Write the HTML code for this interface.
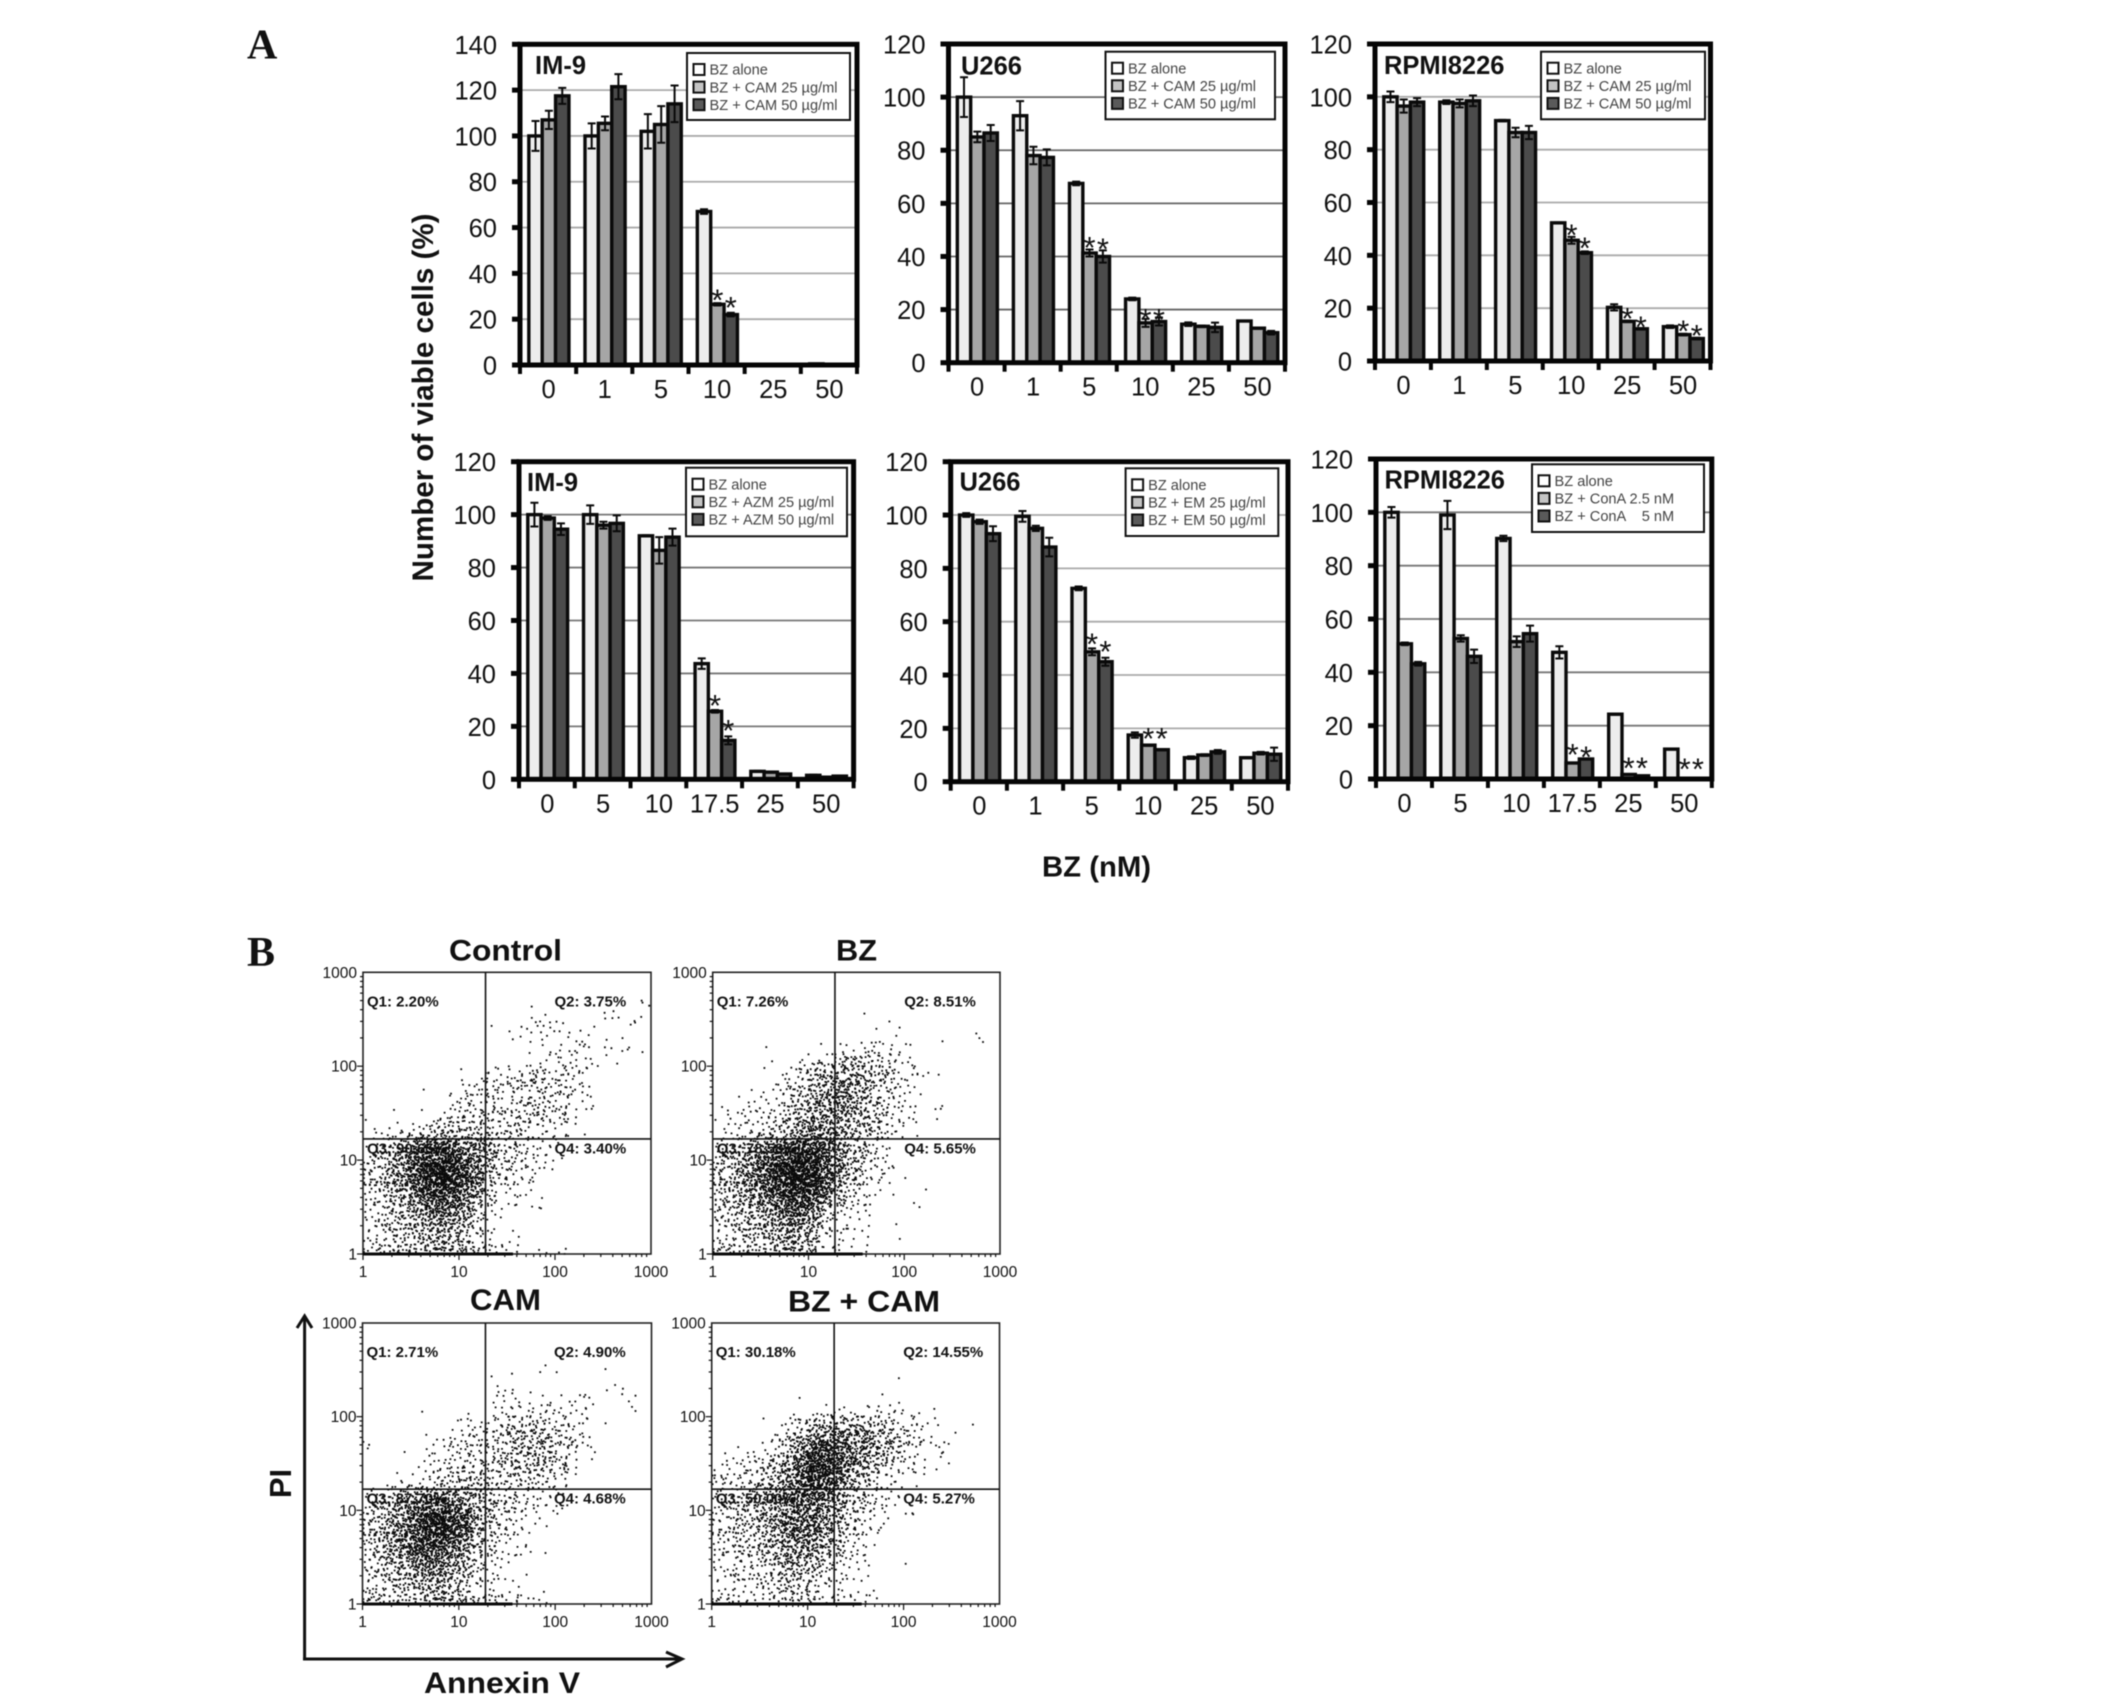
<!DOCTYPE html>
<html lang="en">
<head>
<meta charset="utf-8">
<title>Viable cells and annexin V / PI flow cytometry</title>
<style>
html,body{margin:0;padding:0;background:#fff;}
svg{display:block;filter:blur(0.45px);}
text{font-family:"Liberation Sans",Arial,sans-serif;}
.panel-letter{font-family:"Liberation Serif",serif;font-weight:bold;font-size:42px;fill:#111;}
.bold{font-weight:bold;fill:#111;}
</style>
</head>
<body>
<svg id="figure" xmlns="http://www.w3.org/2000/svg" width="2126" height="1698" viewBox="0 0 2126 1698">
  <rect x="0" y="0" width="2126" height="1698" fill="#fff"/>
  <text class="panel-letter" x="247" y="58.5">A</text>
  <text class="panel-letter" x="247" y="966">B</text>
  <text class="bold" font-size="30" text-anchor="middle" transform="translate(433 397.5) rotate(-90)" textLength="368" lengthAdjust="spacingAndGlyphs">Number of viable cells  (%)</text>
  <text class="bold" font-size="29" x="1042" y="876.5" textLength="109" lengthAdjust="spacingAndGlyphs">BZ (nM)</text>
  <text class="bold" font-size="30" x="449" y="960.5" textLength="113" lengthAdjust="spacingAndGlyphs">Control</text>
  <text class="bold" font-size="30" x="836" y="960.5" textLength="41" lengthAdjust="spacingAndGlyphs">BZ</text>
  <text class="bold" font-size="30" x="470" y="1310" textLength="71" lengthAdjust="spacingAndGlyphs">CAM</text>
  <text class="bold" font-size="30" x="788" y="1311.5" textLength="152" lengthAdjust="spacingAndGlyphs">BZ + CAM</text>
  <line x1="304.6" y1="1660.5" x2="304.6" y2="1316" stroke="#111" stroke-width="3"/>
  <polyline points="297,1328 304.6,1316 312,1328" fill="none" stroke="#111" stroke-width="3"/>
  <line x1="303" y1="1659" x2="682" y2="1659" stroke="#111" stroke-width="3"/>
  <polyline points="666,1652 682,1659 666,1667" fill="none" stroke="#111" stroke-width="3"/>
  <text class="bold" font-size="31" text-anchor="middle" transform="translate(291 1483.5) rotate(-90)">PI</text>
  <text class="bold" font-size="30" x="424" y="1693" textLength="156" lengthAdjust="spacingAndGlyphs">Annexin V</text>
  <g id="bar-charts"></g>
  <g id="flow-plots"></g>
</svg>
<script>
/* ---------- bar chart data ---------- */
const yTicks140 = [0,20,40,60,80,100,120,140];
const yTicks120 = [0,20,40,60,80,100,120];
const doseCatsA = ['0','1','5','10','25','50'];
const doseCatsB = ['0','5','10','17.5','25','50'];

const im9CamAlone = [100,100,102,67,0,0.5];
const im9CamAloneErr = [6.5,5.5,7.5,1,0,0];
const im9Cam25 = [107,105.5,105,26.5,0,0];
const im9Cam25Err = [4,3,8,0.5,0,0];
const im9Cam50 = [117.5,121.5,114,22,0,0.3];
const im9Cam50Err = [3.5,5.5,8,0.8,0,0];
const im9CamStars = [[3,1,31.4],[3,2,28.2]];
const im9CamLegend = ['BZ alone','BZ + CAM 25 µg/ml','BZ + CAM 50 µg/ml'];

const u266CamAlone = [100,93,67.5,24,14.5,15.7];
const u266CamAloneErr = [7.5,5.5,0.7,0.5,0.7,0.2];
const u266Cam25 = [85,78,41.3,15,13.7,13];
const u266Cam25Err = [2,3.3,1.3,1.5,0.3,0.2];
const u266Cam50 = [86.5,77.3,40,15.5,13.3,11.3];
const u266Cam50Err = [3,3,2.3,1.5,1.8,0.7];
const u266CamStars = [[2,1,46],[2,2,45.6],[3,1,19],[3,2,19]];

const rpmiCamAlone = [100,98,91,52.3,20.3,13];
const rpmiCamAloneErr = [2,0.7,0.3,0.2,1.2,0.5];
const rpmiCam25 = [96.5,97.5,86.5,45.7,15,10];
const rpmiCam25Err = [2.5,1.5,1.8,1.3,0.3,0.3];
const rpmiCam50 = [98,98.5,86.5,41,12.2,8.5];
const rpmiCam50Err = [1.5,2,2.5,0.5,0.3,0.3];
const rpmiCamStars = [[3,1,50.5],[3,2,45.4],[4,1,18.8],[4,2,15.6],[5,1,14],[5,2,12.4]];

const im9AzmAlone = [100,100,92,43.7,3,1.5];
const im9AzmAloneErr = [4.5,3.5,0.2,2,0.2,0.2];
const im9Azm25 = [98.7,96,86.5,25.7,2.7,0.8];
const im9Azm25Err = [0.7,1.3,5,0.5,0.2,0.2];
const im9Azm50 = [94.5,96.7,91.5,14.7,2,1.2];
const im9Azm50Err = [2.2,3,3.2,1.5,0.2,0.2];
const im9AzmStars = [[3,1,30.6],[3,2,21.2]];
const im9AzmLegend = ['BZ alone','BZ + AZM 25 µg/ml','BZ + AZM 50 µg/ml'];

const u266EmAlone = [100,99.5,72.5,17.5,9,9];
const u266EmAloneErr = [0.7,2,0.7,1,0.5,0.2];
const u266Em25 = [97.5,95,48.7,13.7,10,10.7];
const u266Em25Err = [0.8,1,1.3,0.2,0.3,0.5];
const u266Em50 = [93,88,45,12,11.2,10.3];
const u266Em50Err = [2.8,3.5,1.5,0.2,0.7,2.5];
const u266EmStars = [[2,1,54.3],[2,2,51.6],[3,1,18.9],[3,2,18.9]];
const u266EmLegend = ['BZ alone','BZ + EM 25 µg/ml','BZ + EM 50 µg/ml'];

const rpmiConaAlone = [100,99,90.2,47.5,24.3,11.2];
const rpmiConaAloneErr = [2,5.3,1,2.3,0.2,0.2];
const rpmiCona25 = [50.7,52.7,51.5,6,1.7,0];
const rpmiCona25Err = [0.5,1.2,2,0.2,0.1,0];
const rpmiCona50 = [43.2,46,54.5,7.5,1.2,0];
const rpmiCona50Err = [0.7,2.5,3,0.2,0.1,0];
const rpmiConaStars = [[3,1,11.9],[3,2,10.9],[4,1,6.9],[4,2,6.9],[5,1,6.4],[5,2,6.4]];
const rpmiConaLegend = ['BZ alone','BZ + ConA 2.5 nM','BZ + ConA    5 nM'];

/* ---------- flow cytometry data: estimated events per log-grid cell (24 x 24, top row first) ---------- */
const logTickLabels = [1,10,100,1000];
const controlDensity = [
[],[],
[0,0,0,0,0,0,0,0,0,0,0,0,0,1,0,0,0,0,0,0,0,0,0,2],
[0,0,0,0,0,0,0,0,0,0,0,0,0,0,0,1,0,0,0,0,2,1,1],
[0,0,0,0,0,0,0,0,0,0,1,0,0,2,3,3,2,0,0,1,1,0,2],
[0,0,0,0,0,0,0,0,0,0,0,0,2,0,2,1,0,2,2,0,1,1],
[0,0,0,0,0,0,0,0,0,0,0,0,0,1,0,2,2,2,2,0,2,2,0,1],
[0,0,0,0,0,0,0,0,0,0,0,0,0,0,1,1,3,3,1,2,1],
[0,0,0,0,0,0,0,0,1,0,4,3,2,4,5,4,5,4,2],
[0,0,0,0,0,0,0,0,2,3,3,5,5,7,7,5,5,3,2],
[0,0,0,0,1,0,0,2,4,3,4,4,3,5,4,5,6,2,2],
[0,0,1,0,1,0,1,3,4,5,4,4,5,6,6,5,5,2,3],
[1,0,0,1,0,0,4,6,5,7,4,4,5,6,6,4,4,2],
[0,2,2,2,5,6,10,9,7,7,6,5,6,4,3,2,2,1,1],
[0,4,6,10,16,22,24,22,15,15,14,6,6,4,3,2,2],
[3,7,10,16,30,36,40,38,24,22,14,6,4,4,3,2,1],
[6,9,14,22,36,50,58,52,30,24,10,6,6,5,2,2],
[7,8,14,22,38,52,60,52,32,24,8,5,3,3,1],
[5,7,12,18,30,44,46,40,26,18,6,3,3,2,1],
[3,5,8,12,18,30,34,30,20,12,4,2,2,0,2],
[3,5,8,12,14,20,24,22,16,8,3,1,1,0,1],
[2,5,7,8,10,14,16,14,10,5,2,0,1],
[2,3,6,6,8,12,12,10,7,4,2,0,1],
[5,7,8,8,10,12,14,12,10,7,5,3,3,1,1,1,2]
];
const bzDensity = [
[],[],[],
[0,0,0,0,0,0,0,0,0,0,0,0,1],
[0,0,0,0,0,0,0,0,0,0,0,0,0,1,1,1],
[0,0,0,0,0,0,0,0,0,0,0,0,0,0,1,1,1,0,0,1,0,0,2],
[0,0,0,0,1,0,0,0,1,0,1,2,3,4,2,2,1],
[0,0,0,0,0,1,0,2,3,4,7,8,8,6,4,2,2],
[0,0,0,0,1,1,2,5,8,11,12,13,11,8,6,4,3,2,0,1],
[0,0,0,0,0,3,4,6,9,14,16,15,12,9,5,4,2],
[0,0,1,2,2,2,6,9,12,16,20,18,14,6,4,3,2,1],
[1,1,2,2,2,3,6,10,14,16,18,18,12,8,5,3,2,0,2],
[1,3,3,3,4,5,8,14,16,16,14,12,9,9,5,3,2,0,1],
[0,2,3,4,6,7,11,16,18,18,15,11,8,7,6,3,0,1],
[3,4,6,8,12,16,24,30,30,24,18,10,7,4,3],
[6,8,11,16,24,32,44,50,46,30,18,10,8,5,2],
[8,10,16,24,34,44,54,58,50,32,20,10,6,4,3,1],
[8,9,16,26,36,46,56,60,52,30,16,10,6,3,2,0,1],
[6,9,14,22,30,40,50,52,40,26,12,6,4,2,0,1,0,1],
[6,8,10,16,20,28,36,40,28,16,7,4,3,1,0,0,1,1],
[5,7,9,12,14,20,28,28,18,8,4,3,2],
[4,5,8,9,12,16,20,18,12,5,2,2,2,0,0,1],
[3,4,7,7,10,12,16,12,9,3,2,2,1,0,0,1],
[7,6,7,7,9,11,14,12,8,3,2,1,2]
];
const camDensity = [
[],[],[],
[0,0,0,0,0,0,0,0,0,0,0,0,0,0,0,1],
[0,0,0,0,0,0,0,0,0,0,1,0,1,0,1,0,1,0,0,0,1],
[0,0,0,0,0,0,0,0,0,0,0,2,1,0,1,0,0,0,0,0,1,2],
[0,0,0,0,0,0,0,0,0,0,0,3,3,1,0,2,1,2,2,1,0,0,2],
[0,0,0,0,0,1,0,0,1,0,1,3,3,2,3,4,2,2,2,0,0,0,1],
[0,0,0,0,0,0,0,0,3,3,3,5,6,7,5,4,4,2,2,0,1],
[0,0,0,0,0,1,0,2,3,4,3,7,8,8,9,8,5,4,2],
[2,0,0,1,0,2,2,4,5,4,4,6,8,10,10,9,6,4,2,1],
[0,0,0,0,0,2,3,4,4,5,5,7,9,9,9,8,6,3,1],
[0,0,0,1,1,2,4,5,5,6,5,6,8,8,8,6,5,3],
[0,0,1,2,2,3,6,7,8,7,7,5,5,5,7,4,3],
[2,3,5,8,10,14,16,14,12,10,8,5,5,4,3,2,3],
[5,8,10,16,22,28,30,26,20,12,8,6,6,3,3,2,2],
[6,10,14,20,32,42,48,40,30,16,8,5,4,3,2,0,1],
[7,11,16,26,36,48,50,42,28,14,7,4,3,2,0,1],
[7,11,16,26,32,44,42,32,20,10,5,4,2,1],
[5,9,14,22,28,34,30,24,14,8,4,3,2,2,0,1],
[3,7,10,14,20,24,22,16,12,7,3,2,1],
[4,7,8,10,14,18,16,12,9,5,3,2,1,1],
[3,5,7,8,10,12,12,8,6,3,2,1,1],
[8,7,6,7,9,12,14,12,9,6,5,4,4,2,2,1]
];
const bzCamDensity = [
[],[],[],[],
[0,0,0,0,0,0,0,0,0,0,0,0,0,0,0,1],
[],
[0,0,0,0,0,0,0,1,0,0,0,0,0,0,1,1],
[0,0,0,0,0,0,1,0,1,2,2,2,2,3,2,3,1,1,1],
[0,0,0,0,1,1,3,5,8,10,10,10,9,8,5,4,3,2,1,1,0,1],
[0,0,0,0,0,2,5,10,16,20,20,18,16,12,8,7,4,2,1,0,1],
[0,0,1,1,2,4,9,18,30,34,28,24,20,16,12,8,5,3,2,2],
[0,2,2,3,4,7,14,26,40,40,32,24,18,12,8,5,3,2,0,2],
[3,3,3,5,7,10,18,30,46,44,30,20,12,8,5,3,2,2,1],
[4,4,4,6,9,12,20,30,44,36,24,14,8,5,3,2,0,1],
[4,4,5,8,10,14,20,28,34,26,18,10,7,4,3,2],
[5,5,7,9,11,16,22,26,26,22,14,8,6,4,3,1],
[5,6,7,9,12,16,22,24,22,18,12,7,4,3,2,0,2],
[5,5,7,8,10,16,22,24,22,18,10,6,4,3,1],
[4,4,6,7,10,14,20,22,18,14,8,5,3,1],
[3,4,6,6,8,10,16,16,14,12,6,3,3],
[3,3,4,5,6,9,13,12,9,8,4,3,2,0,0,0,1],
[2,3,4,4,5,8,10,9,7,5,3,2,2],
[1,2,3,3,4,5,7,6,5,3,2,1,0,1],
[6,5,3,3,5,6,7,6,5,4,3,3,3,2]
];
const controlQuadrants = ['Q1: 2.20%','Q2: 3.75%','Q3: 90.65%','Q4: 3.40%'];
const bzQuadrants = ['Q1: 7.26%','Q2: 8.51%','Q3: 78.58%','Q4: 5.65%'];
const camQuadrants = ['Q1: 2.71%','Q2: 4.90%','Q3: 87.70%','Q4: 4.68%'];
const bzCamQuadrants = ['Q1: 30.18%','Q2: 14.55%','Q3: 50.00%','Q4: 5.27%'];
const annexinGate = 18.9;
const piGate = 16.8;

/* ---------- layout and styling ---------- */
const barFills = ['#ededed','#a6a6a6','#4b4b4b'];
const swatchFills = ['#ffffff','#c4c4c4','#5a5a5a'];
const barPanels = [
 {l:520,r:857,t:44.3,b:365,max:140,grid:'#aaaaaa',ticks:yTicks140,cats:doseCatsA,series:[im9CamAlone,im9Cam25,im9Cam50],errs:[im9CamAloneErr,im9Cam25Err,im9Cam50Err],stars:im9CamStars,legend:im9CamLegend,box:[687,53,163,67],title:'IM-9',tx:535,ty:74},
 {l:948.5,r:1285,t:44,b:362.7,max:120,grid:'#666666',ticks:yTicks120,cats:doseCatsA,series:[u266CamAlone,u266Cam25,u266Cam50],errs:[u266CamAloneErr,u266Cam25Err,u266Cam50Err],stars:u266CamStars,legend:im9CamLegend,box:[1105.5,51.7,169.5,67.6],title:'U266',tx:961,ty:74.5},
 {l:1375,r:1710.5,t:44,b:361,max:120,grid:'#aaaaaa',ticks:yTicks120,cats:doseCatsA,series:[rpmiCamAlone,rpmiCam25,rpmiCam50],errs:[rpmiCamAloneErr,rpmiCam25Err,rpmiCam50Err],stars:rpmiCamStars,legend:im9CamLegend,box:[1541,51.7,164,67.6],title:'RPMI8226',tx:1384,ty:74},
 {l:519,r:853.6,t:461.7,b:779.3,max:120,grid:'#777777',ticks:yTicks120,cats:doseCatsB,series:[im9AzmAlone,im9Azm25,im9Azm50],errs:[im9AzmAloneErr,im9Azm25Err,im9Azm50Err],stars:im9AzmStars,legend:im9AzmLegend,box:[686,467.7,161,68.6],title:'IM-9',tx:527,ty:491},
 {l:950.7,r:1288,t:461.7,b:781.7,max:120,grid:'#aaaaaa',ticks:yTicks120,cats:doseCatsA,series:[u266EmAlone,u266Em25,u266Em50],errs:[u266EmAloneErr,u266Em25Err,u266Em50Err],stars:u266EmStars,legend:u266EmLegend,box:[1125.6,468.3,152.7,67.7],title:'U266',tx:959.5,ty:490.5},
 {l:1376,r:1711.8,t:459,b:779,max:120,grid:'#777777',ticks:yTicks120,cats:doseCatsB,series:[rpmiConaAlone,rpmiCona25,rpmiCona50],errs:[rpmiConaAloneErr,rpmiCona25Err,rpmiCona50Err],stars:rpmiConaStars,legend:rpmiConaLegend,box:[1532,464.3,172,67.7],title:'RPMI8226',tx:1384.5,ty:488.7}
];
const flowPanels = [
 {l:363,r:651,t:972.3,b:1254,grid:controlDensity,labels:controlQuadrants},
 {l:712.7,r:1000,t:972.3,b:1254,grid:bzDensity,labels:bzQuadrants},
 {l:362.5,r:651.5,t:1323,b:1604,grid:camDensity,labels:camQuadrants},
 {l:711.7,r:999.5,t:1323,b:1604,grid:bzCamDensity,labels:bzCamQuadrants}
];
/* Stipple layout used to place a cell's events inside and around that cell */
const dotsPerEvent = 1.45;
const stippleOrder = [0,32,8,40,2,34,10,42,48,16,56,24,50,18,58,26,12,44,4,36,14,46,6,38,60,28,52,20,62,30,54,22,3,35,11,43,1,33,9,41,51,19,59,27,49,17,57,25,15,47,7,39,13,45,5,37,63,31,55,23,61,29,53,21];
const stippleJitter = [1.3,-2.4,0.4,2.7,-1.1,-2.9,1.9,-0.3,2.2,-1.8,0.9,-2.6,2.9,-0.7,1.5,-1.4,0.1,2.5,-2.1,1.1,-0.5,2.8,-2.8,0.6,1.7,-1.2,-2.3,2.1,-0.1,1.2,-2.7,0.8,2.4,-1.6,-0.9,1.6,-2.0];
const stippleSlot = [];
stippleOrder.forEach(function(rank,i){stippleSlot[rank]=i;});

const NS = 'http://www.w3.org/2000/svg';
function make(tag,parent,attrs){
  const e = document.createElementNS(NS,tag);
  for(const k in attrs){e.setAttribute(k,attrs[k]);}
  parent.appendChild(e);
  return e;
}

function drawBarPanel(p,root){
  const g = make('g',root,{});
  
  
  const yScale = function(v){return p.b - v/p.max*(p.b-p.t);};
  const band = (p.r-p.l)/p.cats.length;
  const barW = band*0.238;
  const barX = function(gi,si){return p.l + band*gi + (band-barW*3)/2 + 0.8 + si*barW;};

  p.ticks.forEach(function(v){
    if(v===0||v===p.max){return;}
    const grid = make('line',g,{x1:p.l,x2:p.r,y1:yScale(v),y2:yScale(v),stroke:p.grid,'stroke-width':1.8});
    
    
  });

  p.series.forEach(function(vals,si){
    vals.forEach(function(v,gi){
      const bar = make('rect',g,{x:barX(gi,si),y:yScale(v),width:barW,height:p.b-yScale(v),fill:barFills[si],stroke:'#0a0a0a','stroke-width':3.4});
      
      
    });
  });
  p.series.forEach(function(vals,si){
    vals.forEach(function(v,gi){
      const e = p.errs[si][gi];
      if(!e){return;}
      const cx = barX(gi,si)+barW/2;
      const d = 'M'+cx+' '+yScale(v+e)+'V'+yScale(v-e)+'M'+(cx-4)+' '+yScale(v+e)+'h8M'+(cx-4)+' '+yScale(v-e)+'h8';
      const err = make('path',g,{d:d,fill:'none',stroke:'#0a0a0a','stroke-width':2});
      
      
    });
  });

  const frame = make('rect',g,{x:p.l,y:p.t,width:p.r-p.l,height:p.b-p.t,fill:'none',stroke:'#050505','stroke-width':5});
  
  

  p.ticks.forEach(function(v){
    const tick = make('line',g,{x1:p.l-8,x2:p.l,y1:yScale(v),y2:yScale(v),stroke:'#050505','stroke-width':5});
    
    
    const label = make('text',g,{x:p.l-23,y:yScale(v)+9.5,'text-anchor':'end','font-size':25.5,fill:'#111'});
    label.textContent = v;
    
    
  });
  for(let i=0;i<=p.cats.length;i++){
    const xt = make('line',g,{x1:p.l+band*i,x2:p.l+band*i,y1:p.b,y2:p.b+9,stroke:'#050505','stroke-width':4});
    
    
  }
  p.cats.forEach(function(c,i){
    const label = make('text',g,{x:p.l+band*(i+0.5)+0.5,y:p.b+33,'text-anchor':'middle','font-size':25.5,fill:'#111'});
    label.textContent = c;
    
    
  });

  p.stars.forEach(function(s){
    const star = make('text',g,{x:barX(s[0],s[1])+barW/2,y:yScale(s[2])+0.57*31,'text-anchor':'middle','font-size':31,fill:'#111'});
    star.textContent = '*';
    
    
  });

  const box = p.box;
  const legend = make('g',g,{});
  
  
  const lr = make('rect',legend,{x:box[0],y:box[1],width:box[2],height:box[3],fill:'#fff',stroke:'#111','stroke-width':2});
  
  
  p.legend.forEach(function(txt,i){
    const cy = box[1]+16.5+i*17.6;
    const sw = make('rect',legend,{x:box[0]+6.5,y:cy-5.5,width:11,height:11,fill:swatchFills[i],stroke:'#111','stroke-width':2});
    
    
    const t = make('text',legend,{x:box[0]+22.5,y:cy+5.2,'font-size':14.6,fill:'#444',style:'white-space:pre'});
    t.textContent = txt;
    
    
  });

  const title = make('text',g,{x:p.tx,y:p.ty,'font-size':25.5,'font-weight':'bold',fill:'#111'});
  title.textContent = p.title;
  
  
}

function drawFlowPanel(p,root){
  const g = make('g',root,{});
  
  
  const xLog = function(v){return p.l + Math.log10(v)/3*(p.r-p.l);};
  const yLog = function(v){return p.b - Math.log10(v)/3*(p.b-p.t);};
  const gx = xLog(annexinGate), gy = yLog(piGate);
  const cellDec = 3/24;

  /* quadrant labels sit under the events */
  const lx = [p.l+4,p.l+191.5,p.l+4,p.l+191.5];
  const ly = [p.t+34,p.t+34,gy+14.5,gy+14.5];
  p.labels.forEach(function(txt,i){
    const q = make('text',g,{x:lx[i],y:ly[i],'font-size':15,'font-weight':'bold',fill:'#111'});
    q.textContent = txt;
    
    
  });

  p.grid.forEach(function(row,r){
    row.forEach(function(count,c){
      if(!count){return;}
      const x0 = xLog(Math.pow(10,c*cellDec));
      const x1 = xLog(Math.pow(10,(c+1)*cellDec));
      const y1 = yLog(Math.pow(10,3-r*cellDec));
      const y0 = yLog(Math.pow(10,3-(r+1)*cellDec));
      let d = '';
      const start = (r*11+c*5+r*c*3)%64;
      const dots = count<2 ? count : Math.round(count*dotsPerEvent);
      for(let k=0;k<dots;k++){
        const slot = stippleSlot[(start+k)%64];
        const jx = stippleJitter[(k*3+start)%37];
        const jy = stippleJitter[(k*5+r+c*7)%37];
        const px = Math.max(p.l,Math.min(p.r-2,x0+(slot%8)*(x1-x0)/8+jx));
        const py = Math.max(p.t,Math.min(p.b-1,y1+Math.floor(slot/8)*(y0-y1)/8+jy));
        d += 'M'+px.toFixed(1)+' '+py.toFixed(1)+'h1.8v1.8h-1.8z';
      }
      const cell = make('path',g,{d:d,fill:'#0a0a0a'});
      
      
    });
  });

  const frame = make('rect',g,{x:p.l,y:p.t,width:p.r-p.l,height:p.b-p.t,fill:'none',stroke:'#222','stroke-width':1.6});
  
  
  const gv = make('line',g,{x1:gx,x2:gx,y1:p.t,y2:p.b,stroke:'#111','stroke-width':1.6});
  
  
  const gh = make('line',g,{x1:p.l,x2:p.r,y1:gy,y2:gy,stroke:'#111','stroke-width':1.6});
  
  
  const base = make('line',g,{x1:p.l,x2:p.l+150,y1:p.b,y2:p.b,stroke:'#0a0a0a','stroke-width':3});
  
  

  for(let dec=0;dec<3;dec++){
    for(let m=1;m<10;m++){
      const v = m*Math.pow(10,dec);
      const len = m===1?6:3;
      const xt = make('line',g,{x1:xLog(v),x2:xLog(v),y1:p.b,y2:p.b+len,stroke:'#111','stroke-width':1.2});
      
      
      const yt = make('line',g,{x1:p.l-len,x2:p.l,y1:yLog(v),y2:yLog(v),stroke:'#111','stroke-width':1.2});
      
      
    }
  }
  logTickLabels.forEach(function(v){
    const xl = make('text',g,{x:xLog(v),y:p.b+23,'text-anchor':'middle','font-size':15.5,fill:'#111'});
    xl.textContent = v;
    
    
    const yl = make('text',g,{x:p.l-6,y:yLog(v)+5.5,'text-anchor':'end','font-size':15.5,fill:'#111'});
    yl.textContent = v;
    
    
  });
}

const barRoot = document.getElementById('bar-charts');
barPanels.forEach(function(p){drawBarPanel(p,barRoot);});
const flowRoot = document.getElementById('flow-plots');
flowPanels.forEach(function(p){drawFlowPanel(p,flowRoot);});
</script>
</body>
</html>
